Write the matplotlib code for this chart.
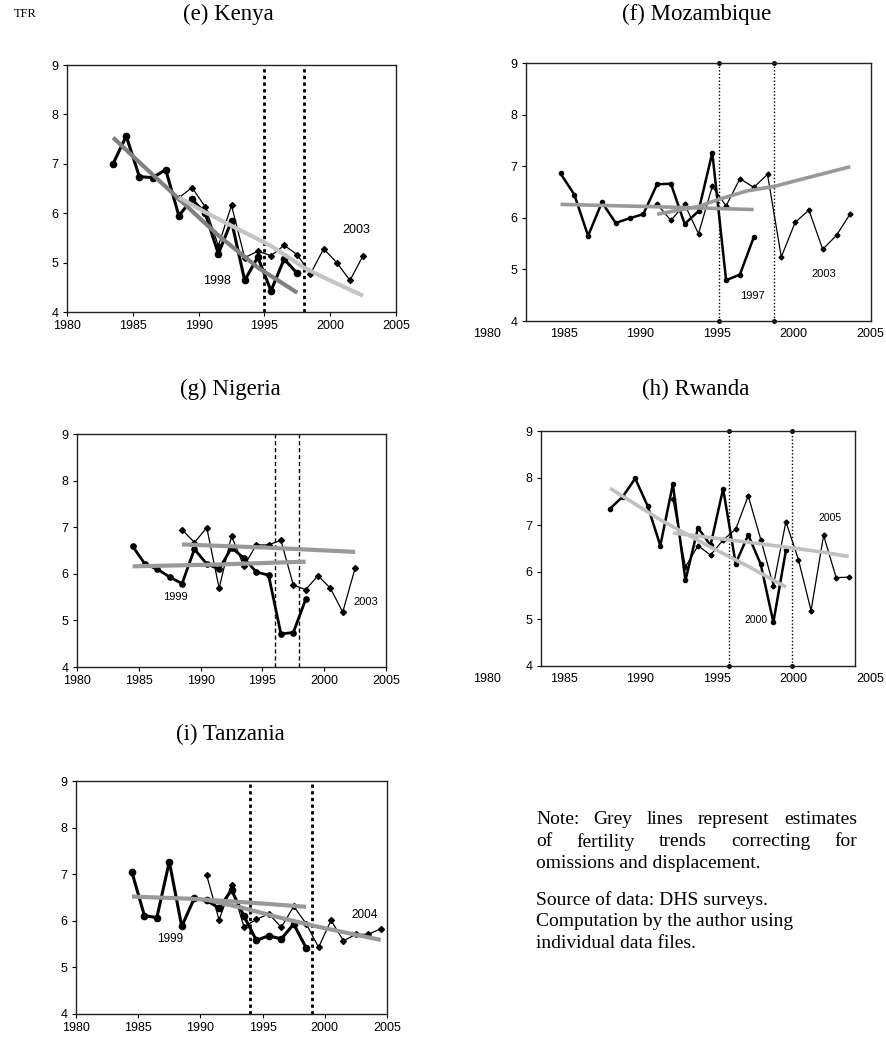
import matplotlib
matplotlib.use('Agg')
import matplotlib.pyplot as plt

plt.rcParams['font.family'] = 'Liberation Sans'

W, H = 886, 1043

# Kenya (surveys 1998 and 2003)
ke_yr_a = [1983.5, 1984.5, 1985.5, 1986.5, 1987.5, 1988.5, 1989.5, 1990.5, 1991.5, 1992.5, 1993.5, 1994.5, 1995.5, 1996.5, 1997.5]
ke_tfr_a = [7.00, 7.56, 6.74, 6.72, 6.88, 5.95, 6.28, 6.00, 5.18, 5.84, 4.64, 5.11, 4.43, 5.07, 4.78]
ke_yr_b = [1988.5, 1989.5, 1990.5, 1991.5, 1992.5, 1993.5, 1994.5, 1995.5, 1996.5, 1997.5, 1998.5, 1999.5, 2000.5, 2001.5, 2002.5]
ke_tfr_b = [6.31, 6.52, 6.13, 5.34, 6.16, 5.10, 5.23, 5.14, 5.35, 5.16, 4.77, 5.28, 5.00, 4.64, 5.14]
ke_trend_a_yr = [1983.5, 1985.5, 1988.5, 1991.5, 1994.5, 1997.5]
ke_trend_a = [7.53, 7.03, 6.29, 5.55, 4.90, 4.39]
ke_trend_b_yr = [1988.5, 1990.5, 1993.5, 1995.5, 1998.0, 1999.5, 2002.5]
ke_trend_b = [6.32, 6.02, 5.61, 5.34, 4.90, 4.70, 4.33]
ke_vlines = [1995, 1998]

# Mozambique (surveys 1997 and 2003)
mz_yr_a = [1982.5, 1983.5, 1984.5, 1985.5, 1986.5, 1987.5, 1988.5, 1989.5, 1990.5, 1991.5, 1992.5, 1993.5, 1994.5, 1995.5, 1996.5]
mz_tfr_a = [6.86, 6.45, 5.65, 6.30, 5.90, 5.99, 6.07, 6.65, 6.66, 5.88, 6.13, 7.26, 4.79, 4.90, 5.62]
mz_yr_b = [1989.5, 1990.5, 1991.5, 1992.5, 1993.5, 1994.5, 1995.5, 1996.5, 1997.5, 1998.5, 1999.5, 2000.5, 2001.5, 2002.5, 2003.5]
mz_tfr_b = [6.26, 5.95, 6.26, 5.69, 6.61, 6.23, 6.76, 6.59, 6.84, 5.24, 5.91, 6.15, 5.39, 5.66, 6.08]
mz_trend_a_yr = [1982.5, 1990.0, 1996.5]
mz_trend_a = [6.26, 6.21, 6.16]
mz_trend_b_yr = [1989.5, 1992.5, 1994.0, 1996.0, 1998.0, 2000.0, 2003.5]
mz_trend_b = [6.07, 6.22, 6.36, 6.52, 6.61, 6.75, 6.99]
mz_vlines = [1994, 1998]

# Nigeria (surveys 1999 and 2003)
ng_yr_a = [1984.5, 1985.5, 1986.5, 1987.5, 1988.5, 1989.5, 1990.5, 1991.5, 1992.5, 1993.5, 1994.5, 1995.5, 1996.5, 1997.5, 1998.5]
ng_tfr_a = [6.59, 6.21, 6.10, 5.93, 5.79, 6.53, 6.21, 6.10, 6.56, 6.34, 6.04, 5.97, 4.71, 4.74, 5.45]
ng_yr_b = [1988.5, 1989.5, 1990.5, 1991.5, 1992.5, 1993.5, 1994.5, 1995.5, 1996.5, 1997.5, 1998.5, 1999.5, 2000.5, 2001.5, 2002.5]
ng_tfr_b = [6.95, 6.67, 6.99, 5.69, 6.81, 6.16, 6.62, 6.62, 6.72, 5.76, 5.66, 5.96, 5.69, 5.18, 6.12]
ng_trend_a_yr = [1984.5, 1991.5, 1998.5]
ng_trend_a = [6.16, 6.20, 6.26]
ng_trend_b_yr = [1988.5, 1995.5, 2002.5]
ng_trend_b = [6.63, 6.56, 6.47]
ng_vlines = [1996, 1998]

# Rwanda (surveys 2000 and 2005)
rw_yr_a = [1985.5, 1986.5, 1987.5, 1988.5, 1989.5, 1990.5, 1991.5, 1992.5, 1993.5, 1994.5, 1995.5, 1996.5, 1997.5, 1998.5, 1999.5]
rw_tfr_a = [7.35, 7.60, 7.99, 7.40, 6.56, 7.87, 5.82, 6.94, 6.57, 7.77, 6.18, 6.79, 6.16, 4.93, 6.46]
rw_yr_b = [1990.5, 1991.5, 1992.5, 1993.5, 1994.5, 1995.5, 1996.5, 1997.5, 1998.5, 1999.5, 2000.5, 2001.5, 2002.5, 2003.5, 2004.5]
rw_tfr_b = [7.55, 6.11, 6.56, 6.36, 6.68, 6.91, 7.62, 6.69, 5.71, 7.07, 6.26, 5.18, 6.78, 5.88, 5.89]
rw_trend_a_yr = [1985.5, 1989.5, 1993.5, 1996.5, 1999.5]
rw_trend_a = [7.78, 7.11, 6.53, 6.12, 5.68]
rw_trend_b_yr = [1990.5, 1994.5, 1999.5, 2002.5, 2004.5]
rw_trend_b = [6.83, 6.70, 6.53, 6.42, 6.33]
rw_vlines = [1995, 2000]

# Tanzania (surveys 1999 and 2004)
tz_yr_a = [1984.5, 1985.5, 1986.5, 1987.5, 1988.5, 1989.5, 1990.5, 1991.5, 1992.5, 1993.5, 1994.5, 1995.5, 1996.5, 1997.5, 1998.5]
tz_tfr_a = [7.04, 6.11, 6.07, 7.27, 5.88, 6.48, 6.44, 6.27, 6.66, 6.10, 5.58, 5.68, 5.61, 5.93, 5.42]
tz_yr_b = [1990.5, 1991.5, 1992.5, 1993.5, 1994.5, 1995.5, 1996.5, 1997.5, 1998.5, 1999.5, 2000.5, 2001.5, 2002.5, 2003.5, 2004.5]
tz_tfr_b = [6.98, 6.02, 6.76, 5.87, 6.03, 6.15, 5.86, 6.31, 5.94, 5.43, 6.01, 5.57, 5.71, 5.71, 5.83]
tz_trend_a_yr = [1984.5, 1989.5, 1994.5, 1998.5]
tz_trend_a = [6.52, 6.47, 6.38, 6.30]
tz_trend_b_yr = [1990.5, 1993.5, 1996.5, 1999.5, 2002.5, 2004.5]
tz_trend_b = [6.45, 6.27, 6.06, 5.87, 5.70, 5.59]
tz_vlines = [1994, 1999]

years = [1980, 1985, 1990, 1995, 2000, 2005]
tfr_ticks = [4, 5, 6, 7, 8, 9]


def box(fig, l, t, r, b):
    return fig.add_axes([l / W, 1 - b / H, (r - l) / W, (b - t) / H])


def panel(ax, a, b, tr_a, tr_b, vlines, labels, st):
    ax.set_xlim(1980, 2005)
    ax.set_ylim(4, 9)
    ax.set_yticks(tfr_ticks)
    ax.tick_params(direction='out', length=3, width=0.8, labelsize=9, pad=3)
    for s in ax.spines.values():
        s.set_linewidth(1.0)
        s.set_color('#222222')
    ax.plot(a[0], a[1], color='black', lw=st['lw_a'], marker='o', ms=st['ms_a'], zorder=2)
    ax.plot(b[0], b[1], color='black', lw=0.9, marker='D', ms=st['ms_b'], zorder=2)
    ax.plot(tr_a[0], tr_a[1], color=st['grey_a'], lw=st['lw_g'], solid_capstyle='butt', zorder=3)
    ax.plot(tr_b[0], tr_b[1], color=st['grey_b'], lw=st['lw_g'], solid_capstyle='butt', zorder=3)
    for x in vlines:
        ax.plot([x, x], [4, 9], color='black', lw=st['vlw'], ls=st['vls'],
                marker=st['vmk'], ms=2.5, clip_on=False, zorder=1)
    for txt, x, y in labels:
        ax.text(x, y, txt, ha='center', va='center', fontsize=st['fs'])
    if st['shifted']:
        # tick labels on a wider strip than the plot box
        ax.set_xticks([])
    else:
        ax.set_xticks(years)


def year_strip(fig, l, r, b):
    sx = fig.add_axes([l / W, 1 - b / H, (r - l) / W, 0.0001])
    sx.set_xlim(1980, 2005)
    sx.set_xticks(years)
    sx.set_yticks([])
    sx.tick_params(length=0, labelsize=9, pad=5)
    for s in sx.spines.values():
        s.set_visible(False)
    sx.patch.set_visible(False)


thick_dots = dict(lw_a=2.2, ms_a=4.5, ms_b=3, vlw=2.0, vls=(0, (1.2, 1.2)), vmk=None, fs=9, shifted=False)

fig = plt.figure(figsize=(W / 100, H / 100), dpi=100)

ax = box(fig, 67, 65, 396, 312)
panel(ax, (ke_yr_a, ke_tfr_a), (ke_yr_b, ke_tfr_b),
      (ke_trend_a_yr, ke_trend_a), (ke_trend_b_yr, ke_trend_b), ke_vlines,
      [('1998', 1991.4, 4.63), ('2003', 2002.0, 5.65)],
      dict(thick_dots, grey_a='#808080', grey_b='#c4c4c4', lw_g=3.0))

ax = box(fig, 526, 63, 871, 321)
panel(ax, (mz_yr_a, mz_tfr_a), (mz_yr_b, mz_tfr_b),
      (mz_trend_a_yr, mz_trend_a), (mz_trend_b_yr, mz_trend_b), mz_vlines,
      [('1997', 1996.4, 4.49), ('2003', 2001.6, 4.92)],
      dict(lw_a=1.8, ms_a=3, ms_b=2.5, vlw=1.0, vls=(0, (1, 1.5)), vmk='o', fs=8,
           shifted=True, grey_a='#999999', grey_b='#999999', lw_g=2.6))
year_strip(fig, 487, 870, 321)

ax = box(fig, 77, 434, 386, 667)
panel(ax, (ng_yr_a, ng_tfr_a), (ng_yr_b, ng_tfr_b),
      (ng_trend_a_yr, ng_trend_a), (ng_trend_b_yr, ng_trend_b), ng_vlines,
      [('1999', 1988.0, 5.51), ('2003', 2003.4, 5.40)],
      dict(lw_a=2.0, ms_a=3.8, ms_b=3, vlw=1.0, vls=(0, (3, 2)), vmk=None, fs=8,
           shifted=False, grey_a='#999999', grey_b='#999999', lw_g=3.0))

ax = box(fig, 541, 431, 855, 666)
panel(ax, (rw_yr_a, rw_tfr_a), (rw_yr_b, rw_tfr_b),
      (rw_trend_a_yr, rw_trend_a), (rw_trend_b_yr, rw_trend_b), rw_vlines,
      [('2000', 1997.1, 4.98), ('2005', 2003.0, 7.14)],
      dict(lw_a=1.8, ms_a=3, ms_b=2.5, vlw=1.0, vls=(0, (1, 1.5)), vmk='o', fs=7.5,
           shifted=True, grey_a='#c0c0c0', grey_b='#c0c0c0', lw_g=2.6))
year_strip(fig, 487, 870, 666)

ax = box(fig, 76, 781, 387, 1014)
panel(ax, (tz_yr_a, tz_tfr_a), (tz_yr_b, tz_tfr_b),
      (tz_trend_a_yr, tz_trend_a), (tz_trend_b_yr, tz_trend_b), tz_vlines,
      [('1999', 1987.6, 5.61), ('2004', 2003.2, 6.13)],
      dict(thick_dots, fs=8.5, grey_a='#999999', grey_b='#999999', lw_g=3.0))

serif = 'Liberation Serif'
titles = [('(e) Kenya', 228, 14), ('(f) Mozambique', 697, 14),
          ('(g) Nigeria', 230, 389), ('(h) Rwanda', 696, 389),
          ('(i) Tanzania', 230, 734)]
for txt, x, y in titles:
    fig.text(x / W, 1 - y / H, txt, family=serif, fontsize=16.5, ha='center', va='center')
fig.text(25 / W, 1 - 14 / H, 'TFR', family=serif, fontsize=9, ha='center', va='center')

# note block, first paragraph justified
note = [('Note: Grey lines represent estimates', True, 820),
        ('of fertility trends correcting for', True, 842),
        ('omissions and displacement.', False, 863),
        ('Source of data: DHS surveys.', False, 900),
        ('Computation by the author using', False, 922),
        ('individual data files.', False, 944)]
x0, x1 = 536 / W, 857 / W
renderer = fig.canvas.get_renderer()
for line, just, y in note:
    yf = 1 - y / H
    if not just:
        fig.text(x0, yf, line, family=serif, fontsize=14, ha='left', va='center')
        continue
    words = line.split()
    texts = [fig.text(0, yf, w, family=serif, fontsize=14, ha='left', va='center') for w in words]
    widths = [t.get_window_extent(renderer).width / fig.bbox.width for t in texts]
    gap = (x1 - x0 - sum(widths)) / (len(words) - 1)
    x = x0
    for t, w in zip(texts, widths):
        t.set_x(x)
        x += w + gap

fig.savefig('out.png', dpi=100)
